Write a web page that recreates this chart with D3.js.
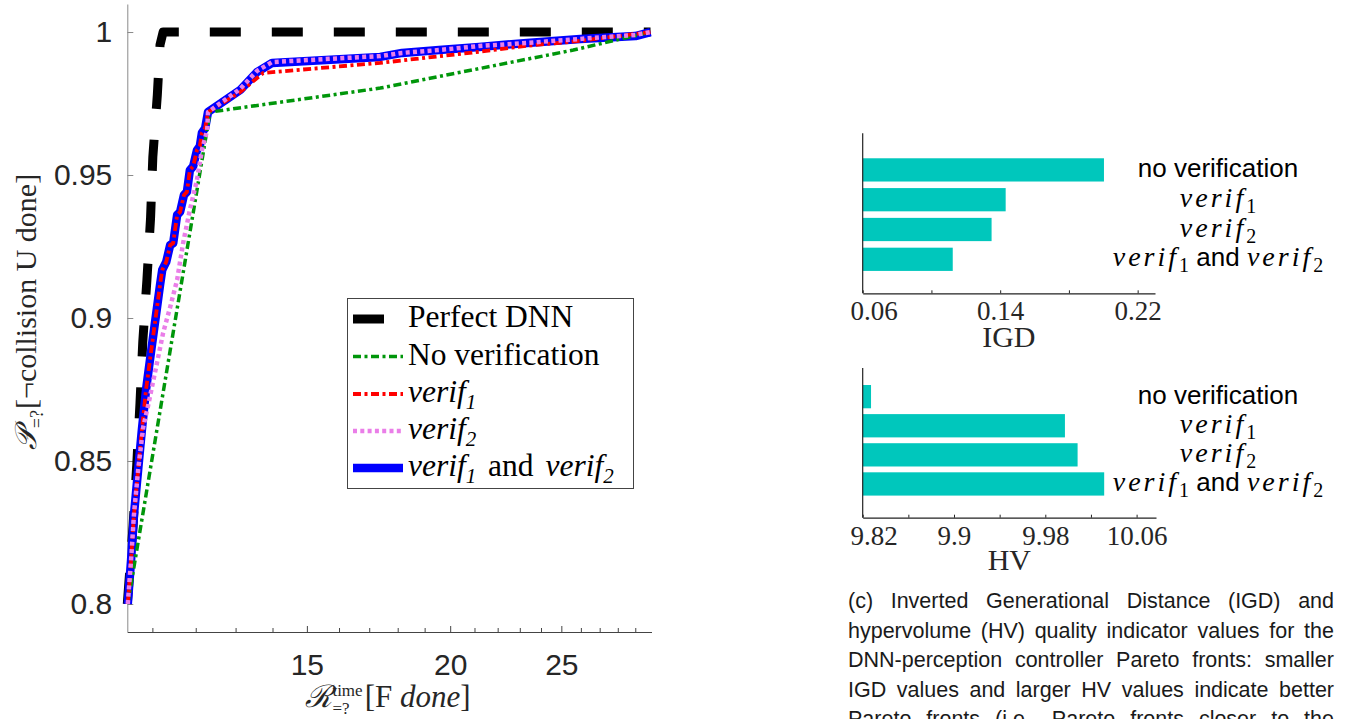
<!DOCTYPE html>
<html>
<head>
<meta charset="utf-8">
<script src="https://cdn.jsdelivr.net/npm/d3@7"></script>
<style>
  body { margin: 0; background: #fff; }
  svg { display: block; }
</style>
</head>
<body>
<svg id="fig" width="1354" height="719"></svg>
<script>
// ---------- series for the Pareto-front plot (reward vs probability) ----------
const perfectX = [10.46, 10.58, 10.66, 10.73, 10.79, 10.88, 10.96, 11.01, 11.11, 11.17, 11.24, 29.90];
const perfectY = [0.8, 0.8269, 0.8486, 0.8703, 0.8916, 0.9133, 0.9350, 0.9563, 0.978, 0.9955, 1.0, 1.0];

const noVerifX = [10.47, 12.35, 17.38, 25.61, 29.90];
const noVerifY = [0.8, 0.972, 0.9804, 0.9937, 1.0];

const verif1X = [10.47, 10.54, 10.60, 10.69, 10.77, 10.86, 10.97, 11.08, 11.17, 11.22, 11.31, 11.40, 11.47, 11.56, 11.63, 11.72, 11.79, 11.86, 11.94, 12.03, 12.10, 12.15, 12.23, 12.30, 13.12, 13.74, 17.38, 21.20, 23.34, 25.97, 29.90];
const verif1Y = [0.8, 0.8154, 0.8311, 0.8469, 0.8608, 0.8748, 0.8881, 0.9010, 0.9115, 0.9168, 0.9196, 0.9255, 0.9262, 0.9360, 0.9371, 0.9430, 0.9441, 0.9517, 0.9531, 0.9587, 0.9601, 0.9647, 0.9664, 0.9720, 0.9790, 0.9857, 0.9892, 0.9931, 0.9952, 0.9969, 1.0];

const verif2X = [10.47, 10.54, 10.60, 10.69, 10.80, 10.90, 11.01, 11.13, 11.24, 11.40, 11.56, 11.70, 11.86, 12.03, 12.15, 12.28, 12.30, 13.12, 13.57, 13.99, 17.38, 18.16, 19.56, 21.20, 23.34, 25.97, 29.01, 29.90];
const verif2Y = [0.8, 0.8154, 0.8311, 0.8469, 0.8619, 0.8689, 0.8773, 0.8864, 0.8948, 0.9038, 0.9133, 0.9262, 0.9378, 0.9483, 0.9587, 0.9657, 0.9720, 0.9801, 0.9864, 0.9895, 0.9916, 0.9927, 0.9937, 0.9951, 0.9962, 0.9976, 0.9990, 1.0];

const bothX = [10.47, 10.54, 10.60, 10.69, 10.77, 10.86, 10.97, 11.08, 11.17, 11.22, 11.31, 11.40, 11.47, 11.56, 11.63, 11.72, 11.79, 11.86, 11.94, 12.03, 12.10, 12.15, 12.23, 12.30, 13.12, 13.57, 13.99, 17.38, 18.16, 19.56, 21.20, 23.34, 25.97, 29.01, 29.90];
const bothY = [0.8, 0.8154, 0.8311, 0.8469, 0.8608, 0.8748, 0.8881, 0.9010, 0.9115, 0.9168, 0.9196, 0.9255, 0.9262, 0.9360, 0.9371, 0.9430, 0.9441, 0.9517, 0.9531, 0.9587, 0.9601, 0.9647, 0.9664, 0.9720, 0.9797, 0.9860, 0.9892, 0.9913, 0.9927, 0.9937, 0.9948, 0.9962, 0.9976, 0.9986, 1.0];

const yTicks = [0.8, 0.85, 0.9, 0.95, 1];
const xTickLabels = [15, 20, 25];

// ---------- quality indicators ----------
const methods = ["no verification", "verif1", "verif2", "verif1 and verif2"];
const igdValues = [0.2004, 0.1432, 0.1350, 0.1124];
const hvValues = [9.8273, 9.9972, 10.0083, 10.0316];
const igdTicks = [0.06, 0.10, 0.14, 0.18, 0.22];
const igdTickLabels = [0.06, 0.14, 0.22];
const hvTicks = [9.82, 9.86, 9.90, 9.94, 9.98, 10.02, 10.06];
const hvTickLabels = [9.82, 9.9, 9.98, 10.06];

const captionLines = [
  "(c) Inverted Generational Distance (IGD) and",
  "hypervolume (HV) quality indicator values for the",
  "DNN-perception controller Pareto fronts: smaller",
  "IGD values and larger HV values indicate better",
  "Pareto fronts (i.e., Pareto fronts closer to the"
];

// ---------- helpers ----------
const svg = d3.select("#fig");
const SERIF = "'Liberation Serif','Times New Roman',serif";
const SANS = "'Liberation Sans',Arial,Helvetica,sans-serif";
const INK = "#262626";

function measure(str, family, size, italic, ls) {
  const t = svg.append("text").attr("font-family", family).attr("font-size", size)
    .attr("font-style", italic ? "italic" : "normal").text(str);
  if (ls) t.attr("letter-spacing", ls);
  const w = t.node().getComputedTextLength();
  t.remove();
  return w;
}

// text built from runs; each run may shift its baseline (dy) or step back (dx)
function rich(parent, parts, x, y, anchor) {
  const t = parent.append("text").attr("x", x).attr("y", y)
    .attr("text-anchor", anchor || "start").attr("fill", INK);
  let shift = 0;
  parts.forEach(p => {
    const s = t.append("tspan").text(p.t)
      .attr("font-family", p.f || SERIF).attr("font-size", p.s)
      .attr("font-style", p.i ? "italic" : "normal");
    const dy = (p.dy || 0) - shift;
    if (dy) s.attr("dy", dy);
    if (p.dx) s.attr("dx", p.dx);
    if (p.ls) s.attr("letter-spacing", p.ls);
    shift = p.dy || 0;
  });
  return t;
}

// ---------- left plot ----------
const x = d3.scaleLog().domain([10.46, 29.96]).range([127.3, 651.5]);
const y = d3.scaleLinear().domain([0.7902, 1.0098]).range([632, 4]);

const gy = svg.append("g").attr("transform", "translate(127.3,0)")
  .call(d3.axisLeft(y).tickValues(yTicks).tickSize(-6).tickSizeOuter(0).tickPadding(15)
    .tickFormat(d3.format("")));
gy.select(".domain").attr("stroke", "#8a8a8a");
gy.selectAll(".tick line").attr("stroke", "#8a8a8a");
gy.selectAll(".tick text").attr("font-family", SANS).attr("font-size", 30).attr("fill", INK);

const xMinor = d3.range(11, 30);
const gx = svg.append("g").attr("transform", "translate(0,632)")
  .call(d3.axisBottom(x).tickValues(xMinor).tickSize(-4).tickSizeOuter(0).tickPadding(22)
    .tickFormat(d => xTickLabels.includes(d) ? d : ""));
gx.select(".domain").attr("stroke", "#444");
gx.selectAll(".tick line").attr("stroke", "#444").attr("y2", d => xTickLabels.includes(d) ? -6 : -4);
gx.selectAll(".tick text").attr("font-family", SANS).attr("font-size", 30).attr("fill", INK);

const lineGen = d3.line().x(d => x(d[0])).y(d => y(d[1]));
const zip = (xs, ys) => xs.map((v, i) => [v, ys[i]]);

const series = [
  { name: "Perfect DNN", pts: zip(perfectX, perfectY), color: "#000000", width: 9, dash: "31,31" },
  { name: "verif1 and verif2", pts: zip(bothX, bothY), color: "#0000ff", width: 8.5, dash: null },
  { name: "No verification", pts: zip(noVerifX, noVerifY), color: "#00960a", width: 3.5, dash: "8,3.5,3,3.5" },
  { name: "verif1", pts: zip(verif1X, verif1Y), color: "#ff0000", width: 3.8, dash: "8,3.5,3,3.5" },
  { name: "verif2", pts: zip(verif2X, verif2Y), color: "#ea7ee8", width: 4.5, dash: "4,3.3" }
];

svg.append("g").selectAll("path").data(series).join("path")
  .attr("d", d => lineGen(d.pts))
  .attr("fill", "none")
  .attr("stroke", d => d.color)
  .attr("stroke-width", d => d.width)
  .attr("stroke-dasharray", d => d.dash)
  .attr("stroke-linejoin", "round")
  .attr("stroke-linecap", "butt");

// legend
const legend = svg.append("g");
legend.append("rect").attr("x", 347.5).attr("y", 298.5).attr("width", 286).attr("height", 190)
  .attr("fill", "#fff").attr("stroke", "#444").attr("stroke-width", 1);
const legendOrder = ["Perfect DNN", "No verification", "verif1", "verif2", "verif1 and verif2"];
const legendRows = [319, 356.5, 394, 431, 468];
const LS = 31.5;
const legendText = {
  "Perfect DNN": [{ t: "Perfect DNN", s: LS }],
  "No verification": [{ t: "No verification", s: LS }],
  "verif1": [{ t: "verif", s: LS, i: true }, { t: "1", s: 21, i: true, dy: 7 }],
  "verif2": [{ t: "verif", s: LS, i: true }, { t: "2", s: 21, i: true, dy: 7 }],
  "verif1 and verif2": [{ t: "verif", s: LS, i: true }, { t: "1", s: 21, i: true, dy: 7 },
    { t: "\u00a0and\u00a0", s: LS, dx: 4 }, { t: "verif", s: LS, i: true, dx: 4 }, { t: "2", s: 21, i: true, dy: 7 }]
};
legendOrder.forEach((name, i) => {
  const s = series.find(d => d.name === name);
  const ry = legendRows[i];
  legend.append("line").attr("x1", 353).attr("x2", 403).attr("y1", ry).attr("y2", ry)
    .attr("stroke", s.color).attr("stroke-width", s.width)
    .attr("stroke-dasharray", s.dash);
  rich(legend, legendText[name], 408, ry + 8, "start").attr("fill", "#000");
});

// axis titles
const xl = svg.append("g");
{
  const wSup = measure("time", SERIF, 17, false);
  const wSub = measure("=?", SERIF, 17, false);
  rich(xl, [
    { t: "\u211B", s: 31, i: true },
    { t: "time", s: 17, dy: -11 },
    { t: "=?", s: 17, dy: 7, dx: -wSup },
    { t: "[F\u00a0", s: 31, dx: Math.max(0, wSup - wSub) + 2 },
    { t: "done", s: 31, i: true },
    { t: "]", s: 31 }
  ], 388, 707, "middle");
}
const yl = svg.append("g").attr("transform", "translate(36,312) rotate(-90)");
rich(yl, [
  { t: "\uD835\uDCAB", s: 30, i: true },
  { t: "=?", s: 18, dy: 7 },
  { t: "[\u00accollision U done]", s: 30, dx: 1 }
], 0, 0, "middle");

// ---------- indicator bar charts ----------
const LABEL_X = 1218;
function labelParts(name) {
  const SZ = 28, SUB = 20, SS = 26;
  if (name === "no verification") return [{ t: "no verification", s: SS, f: SANS }];
  if (name === "verif1") return [{ t: "verif", s: SZ, i: true, ls: 3 }, { t: "1", s: SUB, dy: 6 }];
  if (name === "verif2") return [{ t: "verif", s: SZ, i: true, ls: 3 }, { t: "2", s: SUB, dy: 6 }];
  return [{ t: "verif", s: SZ, i: true, ls: 3 }, { t: "1", s: SUB, dy: 6 },
    { t: "\u00a0and\u00a0", s: SS, f: SANS }, { t: "verif", s: SZ, i: true, ls: 3 }, { t: "2", s: SUB, dy: 6 }];
}

function barPanel(cfg) {
  const g = svg.append("g");
  const xs = d3.scaleLinear().domain(cfg.domain).range([862.7, cfg.right]);
  const ys = d3.scaleBand().domain(methods).range(cfg.band).paddingInner(cfg.pi).paddingOuter(cfg.po);

  g.selectAll("rect").data(methods).join("rect")
    .attr("x", xs(cfg.domain[0]))
    .attr("y", d => ys(d))
    .attr("height", ys.bandwidth())
    .attr("width", (d, i) => xs(cfg.values[i]) - xs(cfg.domain[0]))
    .attr("fill", "#00c7bc");

  const ax = g.append("g").attr("transform", `translate(0,${cfg.base})`)
    .call(d3.axisBottom(xs).tickValues(cfg.ticks).tickSize(-3).tickSizeOuter(0).tickPadding(8)
      .tickFormat(d => cfg.labels.some(v => Math.abs(v - d) < 1e-9) ? d3.format("")(+d.toFixed(2)) : ""));
  ax.select(".domain").attr("stroke", "#222").attr("stroke-width", 1.2);
  ax.selectAll(".tick line").attr("stroke", "#222");
  ax.selectAll(".tick text").attr("font-family", SERIF).attr("font-size", 27).attr("fill", INK)
    .attr("dx", (d, i) => i === 0 ? 11 : 0);

  g.append("line").attr("x1", 862.7).attr("x2", 862.7).attr("y1", cfg.top).attr("y2", cfg.base)
    .attr("stroke", "#222").attr("stroke-width", 1.2);

  methods.forEach(m => {
    const cy = ys(m) + ys.bandwidth() / 2;
    rich(g, labelParts(m), LABEL_X, cy + 7, "middle").attr("fill", "#000");
  });

  g.append("text").attr("x", (862.7 + cfg.right) / 2).attr("y", cfg.titleY)
    .attr("text-anchor", "middle").attr("font-family", SERIF).attr("font-size", 30)
    .attr("fill", INK).text(cfg.title);
}

barPanel({
  domain: [0.06, 0.2301], right: 1155, values: igdValues,
  band: [155, 274.2], pi: 0.22, po: 0.11,
  top: 133.3, base: 293.3, ticks: igdTicks, labels: igdTickLabels,
  title: "IGD", titleY: 346.5
});
barPanel({
  domain: [9.82, 10.077], right: 1156, values: hvValues,
  band: [382.1, 498.5], pi: 0.2, po: 0.1,
  top: 368, base: 517.7, ticks: hvTicks, labels: hvTickLabels,
  title: "HV", titleY: 570
});

// ---------- caption (justified) ----------
const capLeft = 848, capRight = 1334, capBase = 608, capLead = 29.5, CAP = 21.5;
const cap = svg.append("g").attr("font-family", SANS).attr("font-size", CAP).attr("fill", "#1a1a1a");
captionLines.forEach((ln, i) => {
  const words = ln.split(" ");
  const widths = words.map(w => measure(w, SANS, CAP, false));
  const gap = (capRight - capLeft - d3.sum(widths)) / (words.length - 1);
  let cx = capLeft;
  words.forEach((w, j) => {
    cap.append("text").attr("x", cx).attr("y", capBase + i * capLead).text(w);
    cx += widths[j] + gap;
  });
});
</script>
</body>
</html>
